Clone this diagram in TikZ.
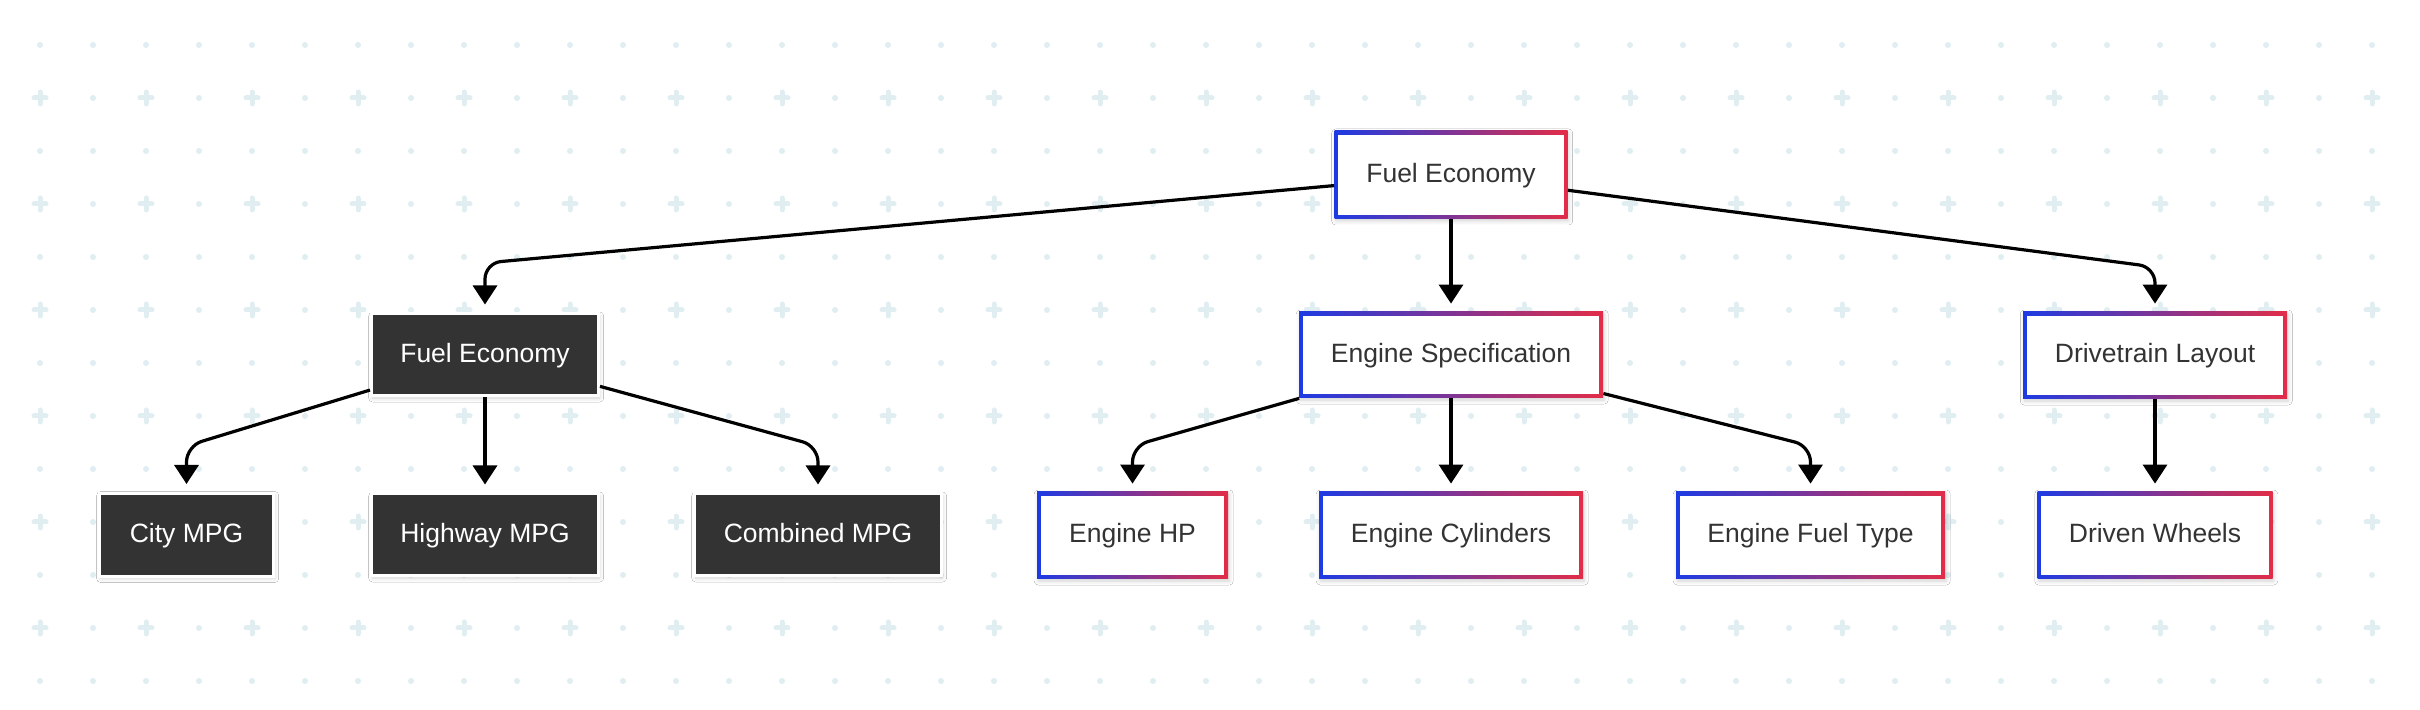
\documentclass[tikz,border=0pt]{standalone}
\usepackage{fontspec}
\setmainfont{Liberation Sans}
\usetikzlibrary{arrows.meta,shadows.blur}
\definecolor{gblue}{HTML}{1D3BE3}
\definecolor{gred}{HTML}{E22D47}
\definecolor{txt}{HTML}{333333}
\definecolor{dk}{HTML}{333333}
\definecolor{gridc}{HTML}{E0EEF2}
\newcommand\lblfont{\fontsize{13.25}{16}\selectfont}
\tikzset{
  shad/.style={blur shadow={shadow xshift=0.6pt, shadow yshift=-1pt, shadow opacity=18, shadow blur radius=2pt}},
  gout/.style={rectangle, inner sep=0pt, left color=gblue, right color=gred, shad},
  gin/.style={rectangle, inner sep=0pt, fill=white, text=txt, font=\lblfont, text height=0.74em, text depth=0pt},
  dnode/.style={rectangle, inner sep=0pt, fill=dk, draw=white, line width=1.5pt, text=white, font=\lblfont, text height=0.74em, text depth=0pt, shad},
  edge/.style={line width=1.6pt, draw=black, rounded corners=8pt, -{Triangle[width=12pt,length=9.5pt]}, shorten >=4pt},
}
\newcommand\mkgnode[6]{%
  \node[gout, minimum width=#4*0.5pt, minimum height=#5*0.5pt] (#1) at (#2,#3) {};
  \node[gin, minimum width=#4*0.5pt-3.6pt, minimum height=#5*0.5pt-3.6pt] (#1-t) at (#1) {#6};
}
\newcommand\mkdnode[6]{%
  \node[dnode, minimum width=#4*0.5pt-1.5pt, minimum height=#5*0.5pt-1.5pt] (#1) at (#2,#3) {#6};
}
\begin{document}
\begin{tikzpicture}[x=0.5pt,y=-0.5pt]
\useasboundingbox (0,0) rectangle (2420,710);
\fill[white] (0,0) rectangle (2420,710);
% background grid
\foreach \j in {0,...,12}{
  \foreach \i in {0,...,44}{
    \pgfmathsetmacro\xx{40+53*\i}
    \pgfmathsetmacro\yy{45+53*\j}
    \ifodd\j
      \ifodd\i
        \fill[gridc] (\xx,\yy) circle[radius=1.5pt];
      \else
        \draw[gridc, line width=2.5pt, line cap=round] (\xx-6,\yy) -- (\xx+6,\yy) (\xx,\yy-6) -- (\xx,\yy+6);
      \fi
    \else
      \fill[gridc] (\xx,\yy) circle[radius=1.5pt];
    \fi
  }
}
% nodes
\mkgnode{top}{1451}{175}{233}{88}{Fuel Economy}
\mkdnode{fe2}{485}{355}{230}{85}{Fuel Economy}
\mkgnode{es}{1451}{355}{304}{86}{Engine Specification}
\mkgnode{dl}{2155}{355.5}{264}{87}{Drivetrain Layout}
\mkdnode{city}{186.5}{535}{177}{86}{City MPG}
\mkdnode{hwy}{485}{535}{230}{85}{Highway MPG}
\mkdnode{comb}{818}{535}{250}{85}{Combined MPG}
\mkgnode{hp}{1132.5}{535.5}{191}{87}{Engine HP}
\mkgnode{cyl}{1451}{535.5}{264}{87}{Engine Cylinders}
\mkgnode{ft}{1810.5}{535.5}{269}{87}{Engine Fuel Type}
\mkgnode{dw}{2155}{535.5}{235}{87}{Driven Wheels}
% connectors
\coordinate (c1) at (485,263);
\coordinate (c2) at (2155,267);
\coordinate (c3) at (186.5,446);
\coordinate (c4) at (818,446);
\coordinate (c5) at (1132.5,446);
\coordinate (c6) at (1810.5,446);
\draw[edge] (top) -- (es);
\draw[edge] (top) -- (c1) -- (fe2);
\draw[edge] (top) -- (c2) -- (dl);
\draw[edge] (fe2) -- (c3) -- (city);
\draw[edge] (fe2) -- (hwy);
\draw[edge] (fe2) -- (c4) -- (comb);
\draw[edge] (es) -- (c5) -- (hp);
\draw[edge] (es) -- (cyl);
\draw[edge] (es) -- (c6) -- (ft);
\draw[edge] (dl) -- (dw);
\end{tikzpicture}
\end{document}
